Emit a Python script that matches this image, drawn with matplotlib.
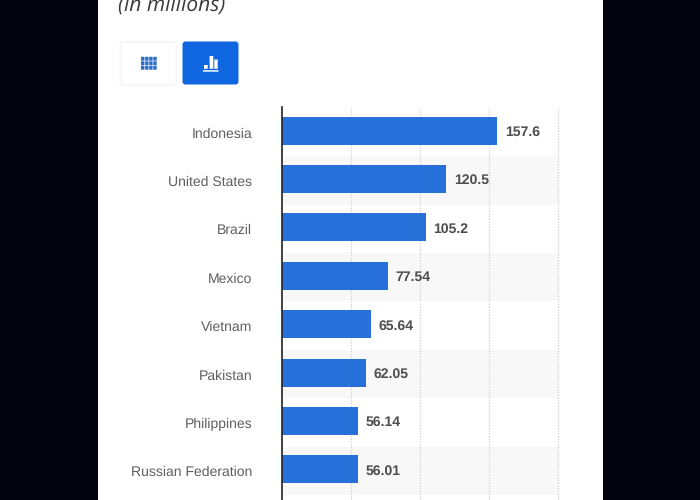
import matplotlib
matplotlib.use("Agg")
import matplotlib.pyplot as plt
from matplotlib.patches import Rectangle, FancyBboxPatch
from matplotlib.transforms import ScaledTranslation

categories = ["Indonesia", "United States", "Brazil", "Mexico", "Vietnam",
              "Pakistan", "Philippines", "Russian Federation"]
values = [157.6, 120.5, 105.2, 77.54, 65.64, 62.05, 56.14, 56.01]
value_labels = ["157.6", "120.5", "105.2", "77.54", "65.64", "62.05", "56.14", "56.01"]
grid_values = [50.7, 101.2, 151.3, 202.3]

W, H = 700, 500
fig = plt.figure(figsize=(7, 5), dpi=100, facecolor="#02030c")
plt.rcParams["font.family"] = ["Liberation Sans", "DejaVu Sans"]
plt.rcParams["text.hinting"] = "no_hinting"
plt.rcParams["text.hinting_factor"] = 1

# Page overlay in pixel coordinates
bg = fig.add_axes([0, 0, 1, 1], zorder=0)
bg.set_xlim(0, W); bg.set_ylim(H, 0); bg.axis("off")
bg.add_patch(Rectangle((98, 0), 505, 500, fc="#ffffff", ec="none"))
bg.text(118, 6.5, "(in millions)", fontsize=15.3, style="italic", color="#3c3c3c",
        family="Open Sans", va="center", ha="left")

# Buttons
bg.add_patch(FancyBboxPatch((120.5, 42), 56, 43, boxstyle="round,pad=0,rounding_size=3",
                            fc="#ffffff", ec="#f6f6f6", lw=1.5))
bg.add_patch(FancyBboxPatch((182.5, 41.5), 56, 43, boxstyle="round,pad=0,rounding_size=3",
                            fc="#0f66e0", ec="none"))
for r in range(3):
    for c in range(4):
        bg.add_patch(Rectangle((141 + c * 4.1, 56.8 + r * 4.5), 3.4, 3.9, fc="#2a6cc8",
                               ec="none", lw=0, snap=False))
for x0, y0, w in [(204, 65, 3.7), (209.6, 56, 3.7), (214.3, 59.5, 3.4)]:
    bg.add_patch(Rectangle((x0, y0), w, 68.8 - y0, fc="#ffffff", ec="none", snap=False))
bg.add_patch(Rectangle((203, 70.2), 15.5, 1.5, fc="#ffffff", ec="none", snap=False))

# Chart
left, right, top, bottom = 281.5, 575.0, 107.0, 500.0
ax = fig.add_axes([left / W, 1 - bottom / H, (right - left) / W, (bottom - top) / H],
                  zorder=1, facecolor="none")
scale = 1.369
ax.set_xlim(0, (right - left) / scale)
y0, step = 130.5, 48.4
ax.set_ylim((bottom - y0) / step, (top - y0) / step)

xband = (558.3 - left) / scale
for i in range(len(categories)):
    if i % 2 == 1:
        ax.barh(i + 0.03, xband, height=1.0, color="#f8f8f8", zorder=0)
for g in grid_values:
    ax.axvline(g, color="#cfcfcf", lw=0.9, ls=(0, (1, 1.2)), zorder=1)
ax.barh(range(len(categories)), values, height=28 / step, color="#2870d9", zorder=2)
for i, (v, t) in enumerate(zip(values, value_labels)):
    ax.annotate(t, (v, i), xytext=(5.4, -1.2), textcoords="offset points",
                fontsize=10, fontweight="bold", color="#4e4e4e", va="center", ha="left", zorder=3)

for s in ["top", "right", "bottom"]:
    ax.spines[s].set_visible(False)
ax.spines["left"].set_color("#222222")
ax.spines["left"].set_linewidth(1.2)
ax.set_xticks([])
ax.set_yticks(range(len(categories)))
ax.set_yticklabels(categories, fontsize=10.1, color="#5f5f5f")
ax.tick_params(axis="y", length=0, pad=21)
shift = ScaledTranslation(0, -1.8 / 100, fig.dpi_scale_trans)
for lab in ax.get_yticklabels():
    lab.set_transform(lab.get_transform() + shift)

fig.savefig("out.png", dpi=100, facecolor=fig.get_facecolor())
